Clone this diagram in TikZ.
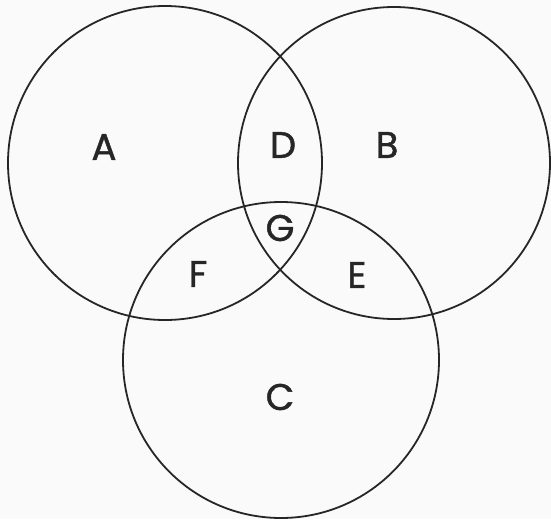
\documentclass[tikz,border=0pt]{standalone}
\usepackage{fontspec}
\newfontfamily\labfont{Poppins}[FakeBold=1.2]
\begin{document}
\begin{tikzpicture}[x=1pt,y=-1pt,
  setcircle/.style={draw=black!85, line width=1.8pt, circle, inner sep=0pt, minimum size=#1},
  region/.style={font=\labfont\fontsize{37}{37}\selectfont, text=black!85, inner sep=0pt}]
\fill[gray!4] (0,0) rectangle (551,519);
\useasboundingbox (0,0) rectangle (551,519);
\node[setcircle=314pt] (circA) at (165,163) {};
\node[setcircle=312pt] (circB) at (394,163) {};
\node[setcircle=316pt] (circC) at (281,360) {};
\node[region] (labA) at (104,147) {A};
\node[region] (labB) at (387,145) {B};
\node[region] (labD) at (283,145) {D};
\node[region] (labG) at (280,228) {G};
\node[region] (labF) at (198,274) {F};
\node[region] (labE) at (357,275) {E};
\node[region] (labC) at (280,397) {C};
\end{tikzpicture}
\end{document}
